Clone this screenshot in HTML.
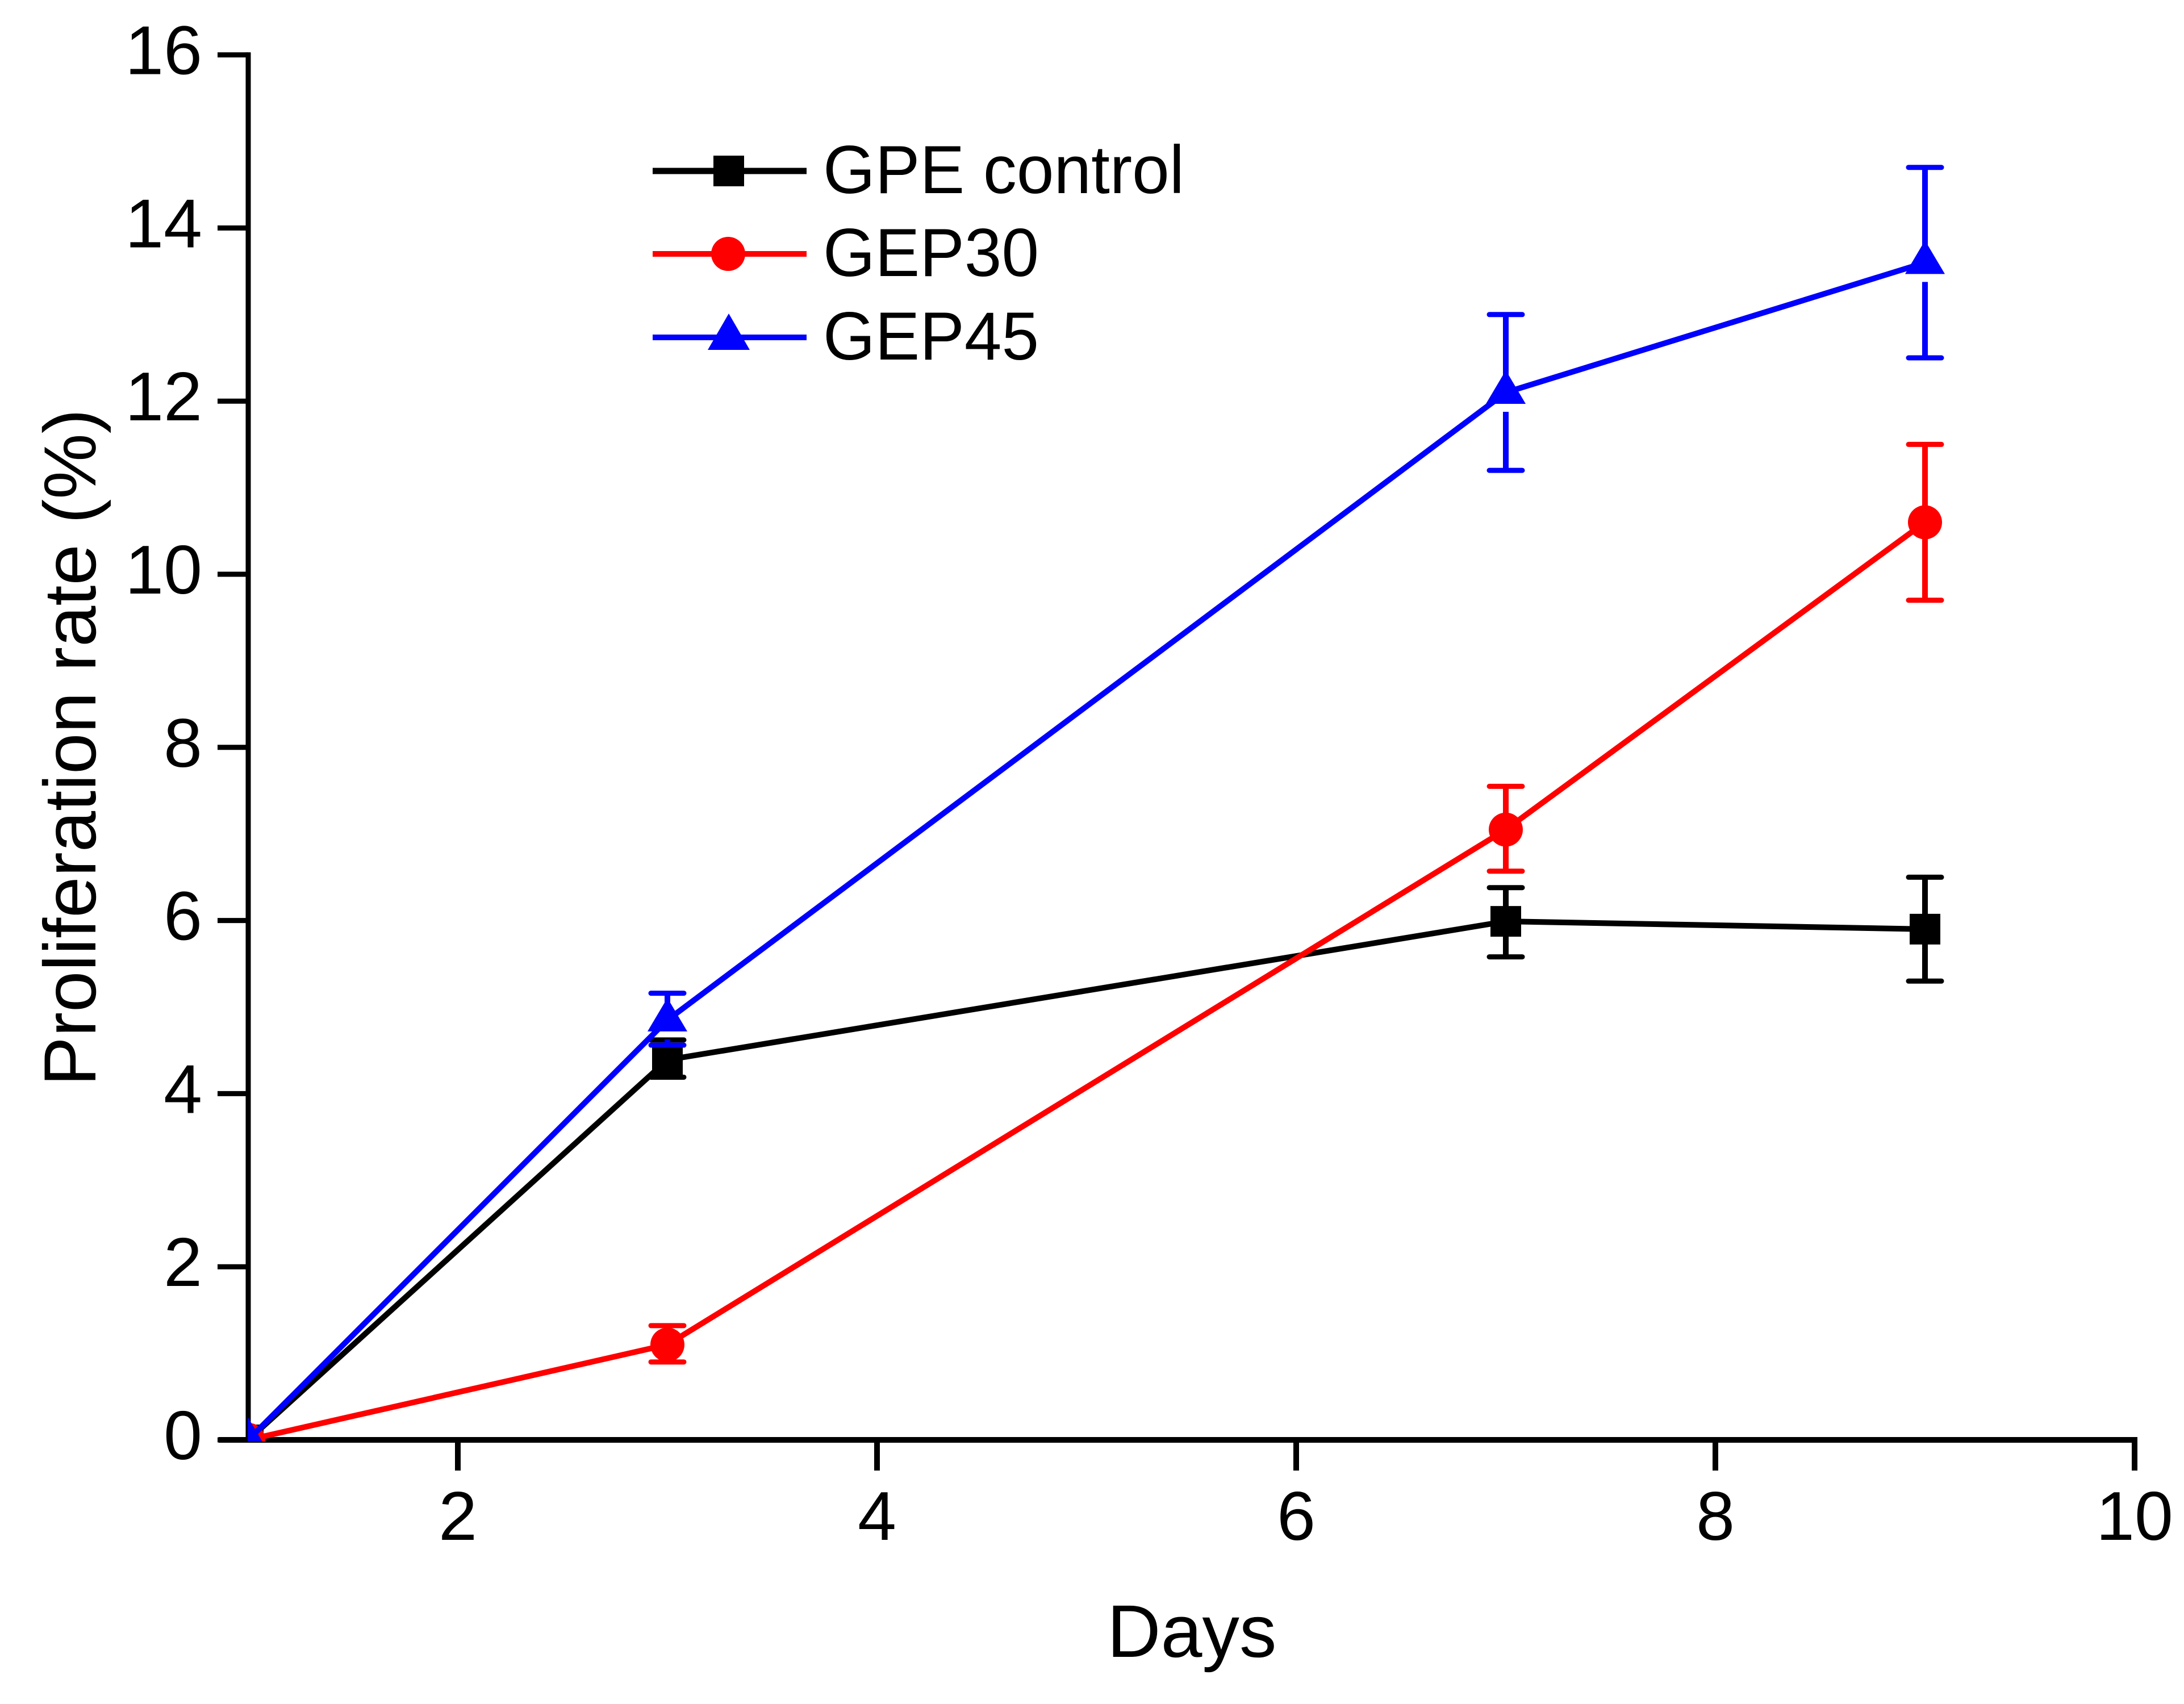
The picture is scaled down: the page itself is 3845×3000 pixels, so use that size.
<!DOCTYPE html>
<html lang="en">
<head>
<meta charset="utf-8">
<title>Proliferation rate chart</title>
<style>
html,body{margin:0;padding:0;background:#fff;width:3845px;height:3000px;overflow:hidden}
svg{display:block}
text{font-family:"Liberation Sans",Arial,sans-serif;fill:#000}
</style>
</head>
<body>
<svg id="chart" xmlns="http://www.w3.org/2000/svg" width="3845" height="3000" viewBox="0 0 3845 3000">
  <defs><clipPath id="plot-clip"><rect x="436" y="90" width="3330" height="2448"/></clipPath></defs>
  <rect x="0" y="0" width="3845" height="3000" fill="#fff"/>
  <g id="axes"></g>
  <g id="series" clip-path="url(#plot-clip)"></g>
  <text x="168" y="1912" font-size="130" transform="rotate(-90 168 1912)">Proliferation rate (%)</text>
  <text x="1949" y="2917" font-size="131">Days</text>
  <g id="legend">
    <g>
      <line x1="1149" y1="301" x2="1420" y2="301" stroke="#000" stroke-width="11"/>
      <rect x="1256" y="274" width="54" height="54" fill="#000"/>
      <text x="1449" y="340" font-size="120" textLength="636" lengthAdjust="spacingAndGlyphs">GPE control</text>
    </g>
    <g>
      <line x1="1149" y1="447" x2="1420" y2="447" stroke="#f00" stroke-width="10"/>
      <circle cx="1282" cy="447" r="30" fill="#f00"/>
      <text x="1449" y="486" font-size="120" textLength="380" lengthAdjust="spacingAndGlyphs">GEP30</text>
    </g>
    <g>
      <line x1="1149" y1="594" x2="1420" y2="594" stroke="#00f" stroke-width="10"/>
      <polygon points="1283,552 1320,616 1246,616" fill="#00f"/>
      <text x="1449" y="633" font-size="120" textLength="380" lengthAdjust="spacingAndGlyphs">GEP45</text>
    </g>
  </g>
</svg>
<script>
const days = [1, 3, 7, 9];
const gpeValues = [0, 4.39, 5.99, 5.9];
const gpeUpper = [0, 4.62, 6.38, 6.5];
const gpeLower = [0, 4.19, 5.58, 5.3];
const gep30Values = [0, 1.1, 7.05, 10.6];
const gep30Upper = [0, 1.32, 7.55, 11.5];
const gep30Lower = [0, 0.9, 6.57, 9.7];
const gep45Values = [0, 4.85, 12.1, 13.6];
const gep45Upper = [0, 5.16, 13, 14.7];
const gep45Lower = [0, 4.56, 11.2, 12.5];
const xTicks = [2, 4, 6, 8, 10];
const yTicks = [0, 2, 4, 6, 8, 10, 12, 14, 16];

const NS = 'http://www.w3.org/2000/svg';
const X_ORIGIN = 806, X_PER_DAY = 369, Y_ZERO = 2535, Y_PER_UNIT = 152.4;
function xScale(v) { return X_ORIGIN + (v - 2) * X_PER_DAY; }
function yScale(v) { return Y_ZERO - v * Y_PER_UNIT; }

function make(parent, tag, attrs, name) {
  const el = document.createElementNS(NS, tag);
  for (const k in attrs) el.setAttribute(k, attrs[k]);
  
  
  parent.appendChild(el);
  return el;
}

const axes = document.getElementById('axes');
const seriesRoot = document.getElementById('series');
const Y_AXIS_W = 9, X_AXIS_W = 10, TICK_LEN = 54;

make(axes, 'line', {x1: xScale(1), y1: yScale(16) - 4.5, x2: xScale(1), y2: yScale(0), stroke: '#000', 'stroke-width': Y_AXIS_W}, 'y-axis-line');
make(axes, 'line', {x1: xScale(1) - TICK_LEN + 2, y1: yScale(0), x2: xScale(10) + 5, y2: yScale(0), stroke: '#000', 'stroke-width': X_AXIS_W}, 'x-axis-line');

yTicks.forEach(function (t) {
  make(axes, 'line', {x1: xScale(1) - TICK_LEN, y1: yScale(t), x2: xScale(1), y2: yScale(t), stroke: '#000', 'stroke-width': Y_AXIS_W}, 'y-tick-' + t);
  const lab = make(axes, 'text', {x: 356, y: yScale(t) + 34, 'font-size': 122, 'text-anchor': 'end'}, 'y-tick-label-' + t);
  lab.textContent = String(t);
});
xTicks.forEach(function (t) {
  make(axes, 'line', {x1: xScale(t), y1: yScale(0), x2: xScale(t), y2: yScale(0) + TICK_LEN, stroke: '#000', 'stroke-width': X_AXIS_W}, 'x-tick-' + t);
  const lab = make(axes, 'text', {x: xScale(t), y: 2711, 'font-size': 122, 'text-anchor': 'middle'}, 'x-tick-label-' + t);
  lab.textContent = String(t);
});

const CAP_HALF = 29, ERR_W = 10, CAP_W = 9, LINE_W = 10;

function drawSeries(key, color, values, upper, lower, marker, gapBelow) {
  const g = make(seriesRoot, 'g', {}, 'series-' + key);
  days.forEach(function (d, i) {
    if (upper[i] === lower[i]) return;
    const cx = xScale(d), cy = yScale(values[i]), yu = yScale(upper[i]), yl = yScale(lower[i]);
    make(g, 'line', {x1: cx, y1: yu, x2: cx, y2: cy, stroke: color, 'stroke-width': ERR_W}, 'error-bar-upper-' + key + '-day-' + d);
    make(g, 'line', {x1: cx, y1: cy + gapBelow, x2: cx, y2: yl, stroke: color, 'stroke-width': ERR_W}, 'error-bar-lower-' + key + '-day-' + d);
    make(g, 'line', {x1: cx - CAP_HALF, y1: yu, x2: cx + CAP_HALF, y2: yu, stroke: color, 'stroke-width': CAP_W, 'stroke-linecap': 'round'}, 'error-cap-upper-' + key + '-day-' + d);
    make(g, 'line', {x1: cx - CAP_HALF, y1: yl, x2: cx + CAP_HALF, y2: yl, stroke: color, 'stroke-width': CAP_W, 'stroke-linecap': 'round'}, 'error-cap-lower-' + key + '-day-' + d);
  });
  const pts = days.map(function (d, i) { return xScale(d) + ',' + yScale(values[i]); }).join(' ');
  make(g, 'polyline', {points: pts, fill: 'none', stroke: color, 'stroke-width': LINE_W, 'stroke-linejoin': 'round'}, 'line-' + key);
  days.forEach(function (d, i) {
    const cx = xScale(d), cy = yScale(values[i]);
    const name = 'point-' + key + '-day-' + d;
    if (marker === 'square') {
      make(g, 'rect', {x: cx - 27, y: cy - 27, width: 54, height: 54, fill: color}, name);
    } else if (marker === 'circle') {
      make(g, 'circle', {cx: cx, cy: cy, r: 30, fill: color}, name);
    } else {
      make(g, 'polygon', {points: cx + ',' + (cy - 39) + ' ' + (cx + 35) + ',' + (cy + 20) + ' ' + (cx - 35) + ',' + (cy + 20), fill: color}, name);
    }
  });
}

drawSeries('gpe-control', '#000', gpeValues, gpeUpper, gpeLower, 'square', 0);
drawSeries('gep30', '#f00', gep30Values, gep30Upper, gep30Lower, 'circle', 0);
drawSeries('gep45', '#00f', gep45Values, gep45Upper, gep45Lower, 'triangle', 34);
</script>
</body>
</html>
